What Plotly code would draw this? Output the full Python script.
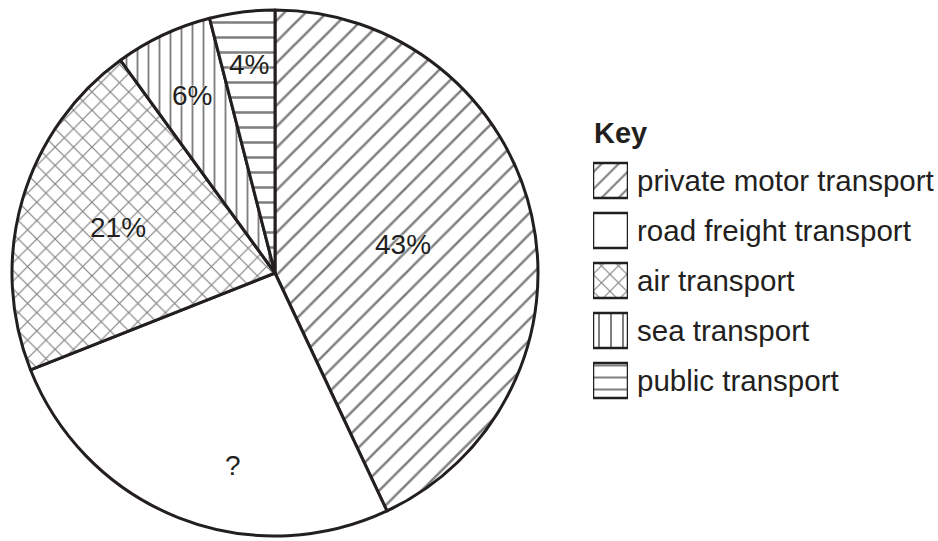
import math
import plotly.graph_objects as go

# ---- data ----
categories = ["private motor transport", "road freight transport", "air transport",
              "sea transport", "public transport"]
values = [43, 26, 21, 6, 4]
slice_labels = ["43%", "?", "21%", "6%", "4%"]
patterns = ["/", "", "x", "|", "-"]
pie_pattern_sizes = [15, 15, 13, 11, 15]
legend_pattern_sizes = [12, 12, 12, 12, 12]
legend_swatch = [1, 1, 1, 1, 1]

# ---- layout constants ----
W, H = 938, 541
CX, CY, R = 275, 273, 263
INK = "#231f20"
FONT = "Liberation Sans, Arial, Helvetica, sans-serif"
label_radius_frac = [0.5, 0.75, 0.62, 0.745, 0.8]
label_angle_shift = [0, -9.3, 0, 0, 0]

fig = go.Figure()

fig.add_trace(go.Pie(
    labels=categories,
    values=values,
    sort=False,
    direction="clockwise",
    rotation=0,
    textinfo="none",
    hoverinfo="skip",
    showlegend=False,
    domain=dict(x=[(CX - R) / W, (CX + R) / W],
                y=[1 - (CY + R) / H, 1 - (CY - R) / H]),
    marker=dict(
        colors=["white"] * len(values),
        line=dict(color=INK, width=3),
        pattern=dict(shape=patterns, size=pie_pattern_sizes, solidity=0.17,
                     fgcolor="#000000", bgcolor="white", fillmode="overlay"),
    ),
))

# slice labels placed along slice bisectors
total = sum(values)
cum = 0
annotations = []
for v, lab, f, sh in zip(values, slice_labels, label_radius_frac, label_angle_shift):
    ang = math.radians(360 * (cum + v / 2) / total + sh)
    px = CX + f * R * math.sin(ang)
    py = CY - f * R * math.cos(ang)
    annotations.append(dict(
        x=px / W, y=1 - py / H, xref="paper", yref="paper",
        text=lab, showarrow=False, xanchor="center", yanchor="middle",
        font=dict(family=FONT, size=28, color=INK, shadow="white 0px 0px 3px"),
    ))
    cum += v

# key (legend) built from patterned bars with category labels on the axis
fig.add_trace(go.Bar(
    x=legend_swatch,
    y=categories,
    orientation="h",
    base=0,
    hoverinfo="skip",
    showlegend=False,
    marker=dict(
        color="white",
        line=dict(color=INK, width=2.5),
        pattern=dict(shape=patterns, size=legend_pattern_sizes, solidity=0.17,
                     fgcolor="#000000", bgcolor="white", fillmode="overlay"),
    ),
))

annotations.append(dict(
    x=592 / W, y=1 - 133 / H, xref="paper", yref="paper",
    text="<b>Key</b>", showarrow=False, xanchor="left", yanchor="middle",
    font=dict(family=FONT, size=29, color=INK),
))

fig.update_layout(
    width=W, height=H,
    margin=dict(l=0, r=0, t=0, b=0),
    paper_bgcolor="white",
    plot_bgcolor="white",
    showlegend=False,
    bargap=0.3,
    annotations=annotations,
    xaxis=dict(domain=[593 / W, 628 / W], range=[0, 1], visible=False, fixedrange=True),
    yaxis=dict(domain=[1 - 405.5 / H, 1 - 155.5 / H], autorange="reversed",
               side="right", showgrid=False, zeroline=False, showline=False,
               ticks="", ticklabelstandoff=8,
               tickfont=dict(family=FONT, size=29.5, color=INK), fixedrange=True),
)

fig.write_html("out.html", config={"displayModeBar": False},
               post_script="document.body.style.margin='0';document.body.style.padding='0';")
